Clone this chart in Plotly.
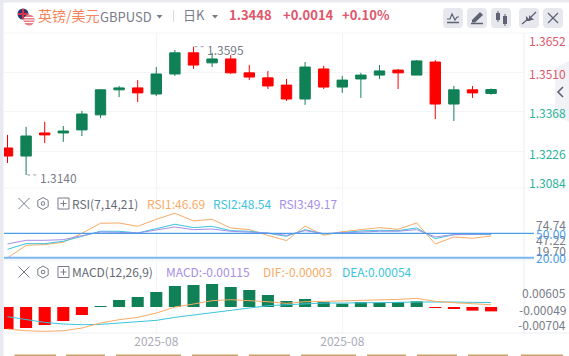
import plotly.graph_objects as go

W, H = 569, 356

# ---------- data ----------
days = list(range(27))
opens  = [1.3238,1.3209,1.3292,1.3292,1.3303,1.3357,1.3447,1.3454,1.3432,1.3504,1.3580,1.3544,1.3558,1.3508,1.3490,1.3464,1.3414,1.3522,1.3457,1.3486,1.3500,1.3518,1.3500,1.3547,1.3396,1.3447,1.3434]
highs  = [1.3285,1.3314,1.3332,1.3317,1.3371,1.3450,1.3461,1.3482,1.3529,1.3590,1.3602,1.3580,1.3572,1.3536,1.3515,1.3486,1.3547,1.3533,1.3497,1.3508,1.3536,1.3522,1.3554,1.3554,1.3461,1.3461,1.3452]
lows   = [1.3184,1.3141,1.3256,1.3260,1.3281,1.3346,1.3421,1.3403,1.3425,1.3497,1.3522,1.3529,1.3505,1.3482,1.3450,1.3407,1.3393,1.3450,1.3436,1.3418,1.3486,1.3450,1.3500,1.3342,1.3335,1.3418,1.3429]
closes = [1.3209,1.3281,1.3285,1.3299,1.3360,1.3447,1.3454,1.3436,1.3504,1.3580,1.3536,1.3558,1.3508,1.3493,1.3461,1.3414,1.3529,1.3457,1.3482,1.3500,1.3515,1.3508,1.3551,1.3396,1.3447,1.3436,1.3448]

rsi1 = [19.7,35.2,36.1,38.9,50.0,62.3,62.7,58.6,67.2,74.74,65.2,67.2,56.6,54.5,47.5,41.0,59.0,47.5,52.0,54.5,57.0,54.9,62.7,36.9,45.5,43.9,46.69]
rsi2 = [30.3,37.3,37.3,40.2,46.3,52.5,52.5,50.4,55.7,61.1,57.0,58.6,53.3,52.5,50.0,46.3,54.5,49.2,50.8,52.9,53.7,53.3,56.6,43.4,48.4,48.8,48.54]
rsi3 = [36.9,41.4,41.4,42.2,47.1,51.6,51.2,50.4,54.1,57.8,54.5,55.3,52.5,51.6,50.4,47.5,53.3,49.6,50.8,52.0,52.5,52.5,54.5,45.5,48.4,48.8,49.17]
rsi_levels = [50, 20]

macd = [-.00579,-.00553,-.00474,-.00368,-.00211,.0001,.00184,.00263,.00395,.00553,.00579,.00605,.00526,.00447,.00316,.00158,.00211,.00132,.00088,.00132,.00114,.00132,.00149,-.0001,-.00044,-.00096,-.00115]
dif  = [-.00643,-.00687,-.00704,-.00687,-.00617,-.00485,-.00397,-.00336,-.00222,-.00064,.00015,.00103,.00129,.00111,.00076,.00032,.00076,.00085,.00094,.00103,.0012,.00138,.00164,.00085,.0005,.00015,-.00003]
dea  = [-.00318,-.00389,-.00468,-.00511,-.00529,-.0052,-.00485,-.00459,-.00415,-.00336,-.00275,-.00204,-.00134,-.00073,-.00029,-.00003,.00024,.00041,.00041,.00041,.0005,.00059,.00068,.00076,.00068,.00059,.00054]

price_grid = [1.3510,1.3368,1.3226]
price_labels = ["1.3652","1.3510","1.3368","1.3226","1.3084"]
rsi_labels = ["74.74","50.00","47.22","19.70","20.00"]
macd_labels = ["0.00605","-0.00049","-0.00704"]
date_ticks = [8, 18]
date_labels = ["2025-08","2025-08"]

# ---------- colours ----------
GREEN, RED = "#108056", "#ff0000"
ORANGE, CYAN, PURPLE = "#f8ab66", "#3cc4dc", "#a68ee8"
BLUE = "#4a9de8"
GRID = "#f3f4f7"
GREY = "#777c88"
TXT_RED, TXT_GREEN = "#e0566a", "#2bb39a"
FONT = "Noto Sans CJK SC"

def px(x): return x / W
def py(y): return 1 - y / H

def path(pts, close=False):
    s = " ".join(("M" if i == 0 else "L") + f" {px(x):.5f} {py(y):.5f}" for i, (x, y) in enumerate(pts))
    return s + (" Z" if close else "")

shapes, annos = [], []

def poly(pts, fill=None, line=None, lw=1, close=True, layer="above", opacity=1):
    shapes.append(dict(type="path", xref="paper", yref="paper", path=path(pts, close),
                       fillcolor=fill if fill else "rgba(0,0,0,0)",
                       line=dict(color=line if line else "rgba(0,0,0,0)", width=lw if line else 0),
                       layer=layer, opacity=opacity))

def seg(x0, y0, x1, y1, color, lw=1, layer="above", dash=None):
    shapes.append(dict(type="line", xref="paper", yref="paper", x0=px(x0), x1=px(x1), y0=py(y0), y1=py(y1),
                       line=dict(color=color, width=lw, dash=dash or "solid"), layer=layer))

def rect(x0, y0, x1, y1, fill, layer="above"):
    shapes.append(dict(type="rect", xref="paper", yref="paper", x0=px(x0), x1=px(x1), y0=py(y0), y1=py(y1),
                       fillcolor=fill, line=dict(width=0), layer=layer))

def circ(cx, cy, r, fill):
    shapes.append(dict(type="circle", xref="paper", yref="paper", x0=px(cx-r), x1=px(cx+r), y0=py(cy-r), y1=py(cy+r),
                       fillcolor=fill, line=dict(width=0)))

def rrect(x0, y0, x1, y1, r, fill):
    X0, X1, Y0, Y1 = px(x0), px(x1), py(y0), py(y1)
    rx, ry = r / W, r / H
    p = (f"M {X0+rx} {Y0} L {X1-rx} {Y0} Q {X1} {Y0} {X1} {Y0-ry} L {X1} {Y1+ry} Q {X1} {Y1} {X1-rx} {Y1} "
         f"L {X0+rx} {Y1} Q {X0} {Y1} {X0} {Y1+ry} L {X0} {Y0-ry} Q {X0} {Y0} {X0+rx} {Y0} Z")
    shapes.append(dict(type="path", xref="paper", yref="paper", path=p, fillcolor=fill, line=dict(width=0)))

def text(x, y, s, color, size=12, anchor="left", weight=None):
    annos.append(dict(xref="paper", yref="paper", x=px(x), y=py(y), text=s, showarrow=False,
                      xanchor=anchor, yanchor="middle", borderpad=0, borderwidth=0,
                      font=dict(family=FONT, size=size, color=color, weight=weight)))

# ---------- frame ----------
rect(0, 0, W, 2.5, "#e8eaf0")
rect(0, 0, 3.5, H, "#e8eaf0")
seg(4, 33, W, 33, GRID, layer="below")
seg(4, 188, W, 188, GRID, layer="below")
seg(4, 260, W, 260, "#eeeff3", layer="below")
seg(4, 333, W, 333, "#eeeff3", layer="below")
seg(524, 33, 524, 333, "#eceef2", layer="below")
for a, b in [(14.5,56),(66,105),(116,181),(192,238),(249,290),(301,356),(367,406),(417,457),(468,508),(521,563)]:
    rect(a, 354.5, b, H, "#c9a063")

# ---------- header ----------
circ(23, 14, 5.5, "#2b3a6b")
seg(18, 14, 28, 14, "#d8324a", 2)
seg(23, 9, 23, 19, "#d8324a", 2)
circ(29, 20, 5.5, "#e8808a")
for yy in (17.5, 20, 22.5):
    seg(24.2, yy, 33.8, yy, "#ffffff", 1)
text(38, 14.5, "英镑/美元", "#f5845a", 14)
text(100, 16, "GBPUSD", GREY, 13)
poly([(156.5, 15), (162.5, 15), (159.5, 18.5)], fill=GREY)
seg(173.5, 10, 173.5, 22, "#d8dae0")
text(183, 14.5, "日K", GREY, 13)
poly([(212, 15), (218, 15), (215, 18.5)], fill=GREY)
text(229, 14.5, "1.3448", TXT_RED, 13, weight=700)
text(283, 14.5, "+0.0014", TXT_RED, 13, weight=700)
text(342, 14.5, "+0.10%", TXT_RED, 13, weight=700)

for x0, x1 in [(443,463),(467,487),(491,511),(519,539),(543,563)]:
    rrect(x0, 8, x1, 28, 4, "#e6e8ee")
IC = "#5e6272"
poly([(447,19),(450,19),(452,14),(455,20),(457,17),(459,17)], line=IC, lw=1.2, close=False)
seg(447, 22.5, 459, 22.5, IC, 1.5)
poly([(472,20),(480,12),(483,15),(475,22.5),(472,22.5)], fill=IC)
seg(471, 23.5, 483, 23.5, IC, 1.5)
rect(496, 13, 500, 20, IC); seg(498, 11, 498, 22, IC)
rect(503, 16, 507, 24, IC); seg(505, 14, 505, 26, IC)
seg(522, 24, 528, 19, IC, 1.3); poly([(526,16),(531,21),(526,21)], fill=IC)
seg(536, 12, 531, 17, IC, 1.3); poly([(529,15),(534,20),(529,20)], fill=IC)
seg(548, 13, 558, 23, IC, 1.3); seg(558, 13, 548, 23, IC, 1.3)

# ---------- side tab ----------
poly([(W,61),(555,68),(555,116),(W,122)], fill="#eff0f4", opacity=0.85)
poly([(563,87),(558,92),(563,97)], line=IC, lw=1.6, close=False)

# ---------- indicator title rows ----------
def row_icons(y):
    seg(18.5, y-5.5, 29.5, y+5.5, GREY, 1); seg(29.5, y-5.5, 18.5, y+5.5, GREY, 1)
    poly([(43,y-6),(48.2,y-3),(48.2,y+3),(43,y+6),(37.8,y+3),(37.8,y-3)], line=GREY, lw=1)
    circ(43, y, 2.2, GREY); circ(43, y, 1.2, "#ffffff")
    poly([(58,y-5.5),(69,y-5.5),(69,y+5.5),(58,y+5.5)], line=GREY, lw=1)
    seg(60.5, y, 66.5, y, GREY); seg(63.5, y-3, 63.5, y+3, GREY)

row_icons(203.5)
text(72, 203, "RSI(7,14,21)", "#666a75", 12)
text(147, 203, f"RSI1:{rsi1[-1]:.2f}", ORANGE, 12)
text(213, 203, f"RSI2:{rsi2[-1]:.2f}", CYAN, 12)
text(279, 203, f"RSI3:{rsi3[-1]:.2f}", PURPLE, 12)
row_icons(272)
text(72, 271.5, "MACD(12,26,9)", "#666a75", 12)
text(166, 271.5, f"MACD:{macd[-1]:.5f}", PURPLE, 12)
text(263, 271.5, f"DIF:{dif[-1]:.5f}", ORANGE, 12)
text(342, 271.5, f"DEA:{dea[-1]:.5f}", CYAN, 12)

# ---------- right labels ----------
R = 565.5
for s, y, c in zip(price_labels, [40.5, 73, 113, 153, 182], [TXT_RED, TXT_RED, TXT_GREEN, TXT_GREEN, TXT_GREEN]):
    text(R, y, s, c, 12, "right")
text(R, 224.5, rsi_labels[0], GREY, 12, "right")
text(R, 239.2, rsi_labels[2], GREY, 12, "right")
text(R, 250.2, rsi_labels[3], GREY, 12, "right")
text(R, 233.2, rsi_labels[1], BLUE, 12, "right")
text(R, 257, rsi_labels[4], BLUE, 12, "right")
for s, y in zip(macd_labels, [292.8, 309.2, 324.2]):
    text(R, y, s, GREY, 12, "right")

# ---------- extreme markers, anchored on the data ----------
hi_i, lo_i = highs.index(max(highs)), lows.index(min(lows))
for i, val, s, ys in [(hi_i, highs[hi_i], "1.3595", 3), (lo_i, lows[lo_i], "1.3140", 3)]:
    annos.append(dict(xref="x", yref="y", x=i, y=val, text=s, showarrow=False, xanchor="left", yanchor="middle",
                      xshift=12, yshift=-ys, font=dict(family=FONT, size=12, color=GREY)))
    shapes.append(dict(type="line", xref="x", yref="y", x0=i+0.06, x1=i+0.6, y0=val, y1=val,
                       line=dict(color="#9a9ea8", width=1, dash="dot"), layer="above"))

# ---------- RSI level lines ----------
shapes.append(dict(type="line", xref="paper", yref="y2", x0=px(4), x1=px(534), y0=rsi_levels[0], y1=rsi_levels[0],
                   line=dict(color=BLUE, width=1.3), layer="above"))
shapes.append(dict(type="line", xref="paper", yref="y2", x0=px(4), x1=px(534), y0=rsi_levels[1], y1=rsi_levels[1],
                   line=dict(color="#78b8ee", width=2), layer="above"))

# ---------- traces ----------
fig = go.Figure()
fig.add_trace(go.Candlestick(x=days, open=opens, high=highs, low=lows, close=closes, xaxis="x", yaxis="y",
    increasing=dict(line=dict(color=GREEN, width=1), fillcolor=GREEN),
    decreasing=dict(line=dict(color=RED, width=1), fillcolor=RED),
    whiskerwidth=0, hoverinfo="skip"))
for vals, c in [(rsi1, ORANGE), (rsi2, CYAN), (rsi3, PURPLE)]:
    fig.add_trace(go.Scatter(x=days, y=vals, mode="lines", xaxis="x2", yaxis="y2", line=dict(color=c, width=1), hoverinfo="skip"))
fig.add_trace(go.Bar(x=days, y=macd, xaxis="x3", yaxis="y3", width=0.65,
                     marker=dict(color=[GREEN if v >= 0 else RED for v in macd], line=dict(width=0)), hoverinfo="skip"))
for vals, c in [(dea, CYAN), (dif, ORANGE)]:
    fig.add_trace(go.Scatter(x=days, y=vals, mode="lines", xaxis="x3", yaxis="y4", line=dict(color=c, width=1), hoverinfo="skip"))

xr = [-0.188, 27.77]
xcommon = dict(range=xr, domain=[px(4), px(524)], tickmode="array", tickvals=date_ticks, showgrid=True,
               gridcolor=GRID, gridwidth=1, zeroline=False, showline=False, ticks="", rangeslider=dict(visible=False))
ycommon = dict(zeroline=False, showline=False, ticks="", showticklabels=False)

fig.update_layout(
    width=W, height=H, autosize=False, margin=dict(l=0, r=0, t=0, b=0),
    paper_bgcolor="white", plot_bgcolor="white", showlegend=False, boxgap=0.2, bargap=0.35,
    shapes=shapes, annotations=annos, hovermode=False,
    xaxis=dict(**xcommon, anchor="y", showticklabels=False),
    xaxis2=dict(**xcommon, anchor="y2", showticklabels=False),
    xaxis3=dict(**xcommon, anchor="y3", ticktext=date_labels, showticklabels=True, ticklabelstandoff=0,
                tickfont=dict(family=FONT, size=12, color="#a8abb8")),
    yaxis=dict(**ycommon, domain=[py(188), py(33)], range=[1.30941, 1.36513], tickmode="array", tickvals=price_grid,
               showgrid=True, gridcolor=GRID),
    yaxis2=dict(**ycommon, domain=[py(259), py(189)], range=[18.4, 104.5], showgrid=False),
    yaxis3=dict(**ycommon, domain=[py(333), py(261)], range=[-0.00684, 0.0121], showgrid=False),
    yaxis4=dict(**ycommon, domain=[py(333), py(261)], range=[-0.00747, 0.01147], showgrid=False, overlaying="y3", anchor="x3"),
)

fig.write_html("out.html", config=dict(displayModeBar=False),
               post_script="document.body.style.margin='0';document.body.style.overflow='hidden';")
